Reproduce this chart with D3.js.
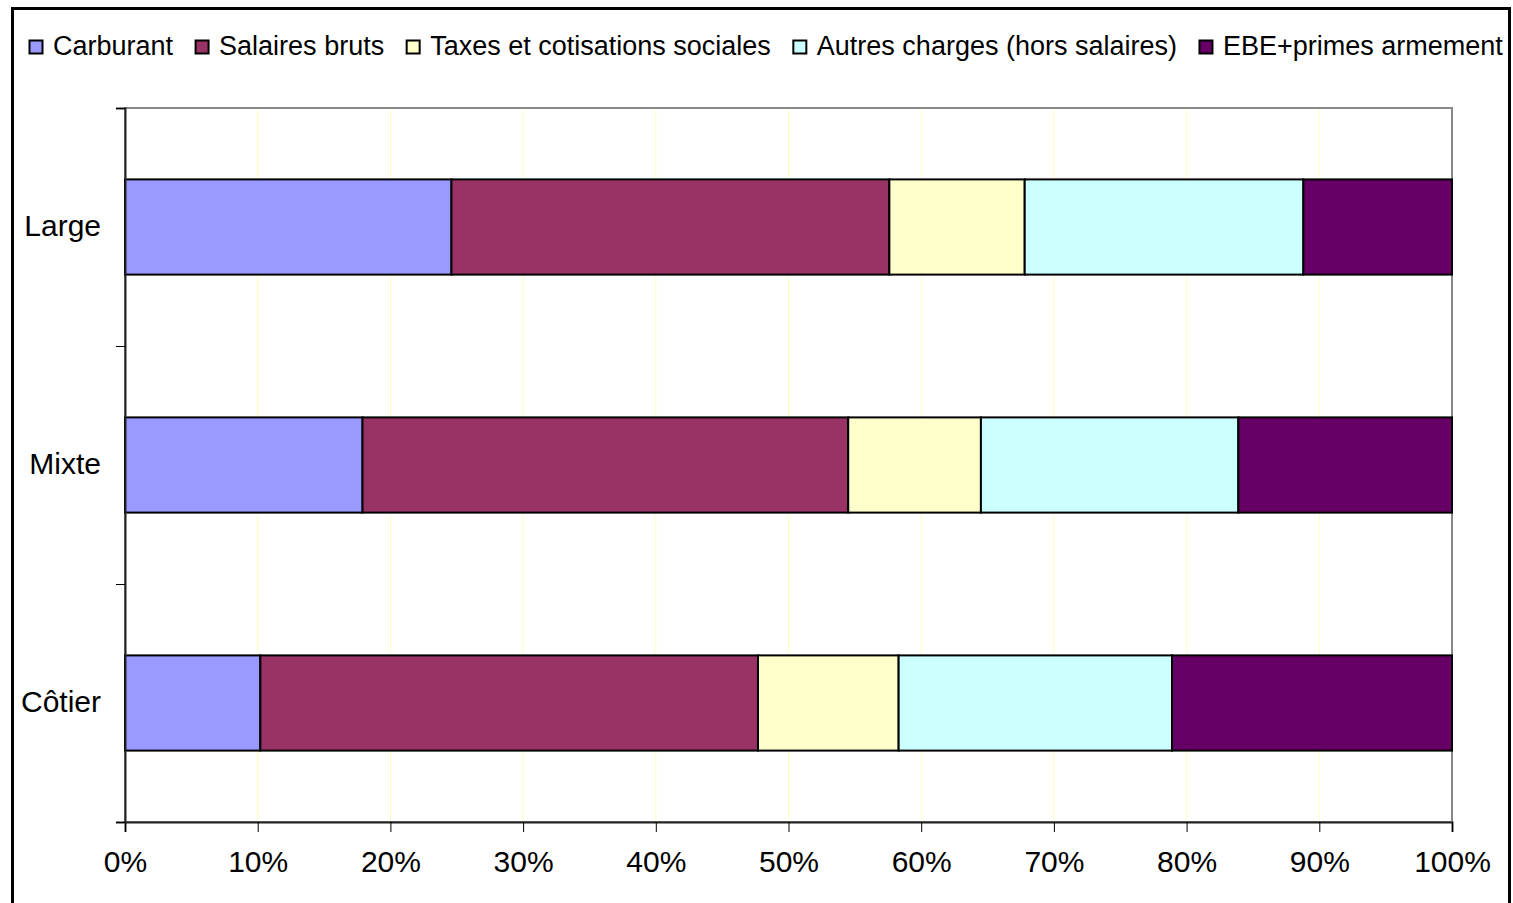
<!DOCTYPE html>
<html>
<head>
<meta charset="utf-8">
<script src="https://cdn.jsdelivr.net/npm/d3@7"></script>
<style>
  body { margin: 0; background: #fff; }
  text { font-family: "Liberation Sans", Arial, sans-serif; fill: #000; }
</style>
</head>
<body>
<svg id="chart" width="1513" height="903"></svg>
<script>
// data (shares in %)
var categories = ["Large", "Mixte", "Côtier"];
var seriesNames = ["Carburant", "Salaires bruts", "Taxes et cotisations sociales", "Autres charges (hors salaires)", "EBE+primes armement"];
var seriesColors = ["#9999ff", "#993366", "#ffffcc", "#ccffff", "#660066"];
var carburant = [24.6, 17.9, 10.2];
var salaires = [33.0, 36.6, 37.5];
var taxes = [10.2, 10.0, 10.6];
var autres = [21.0, 19.4, 20.6];
var ebe = [11.2, 16.1, 21.1];
var xTicks = [0, 10, 20, 30, 40, 50, 60, 70, 80, 90, 100];

var svg = d3.select("#chart"),
    margin = { top: 108, left: 125 },
    width = 1452 - 125,
    height = 822 - 108;

// outer frame
svg.append("rect")
    .attr("x", 12.5).attr("y", 8.5)
    .attr("width", 1497).attr("height", 1000)
    .attr("fill", "none").attr("stroke", "#000").attr("stroke-width", 3);

var x = d3.scaleLinear().domain([0, 100]).range([0, width]);
var y = d3.scaleBand().domain(categories).range([0, height])
    .paddingInner(0.6).paddingOuter(0.3);
var yTick = d3.scaleLinear().domain([0, categories.length]).range([0, height]);

var g = svg.append("g")
    .attr("transform", "translate(" + margin.left + "," + margin.top + ")");

// gridlines
g.selectAll(".grid")
    .data(xTicks.slice(1, -1))
    .enter().append("line")
    .attr("class", "grid")
    .attr("x1", function (d) { return x(d); })
    .attr("x2", function (d) { return x(d); })
    .attr("y1", 0).attr("y2", height)
    .attr("stroke", "#ffffc0").attr("stroke-width", 1);

// plot border (top / right)
g.append("rect")
    .attr("width", width).attr("height", height)
    .attr("fill", "none").attr("stroke", "#888").attr("stroke-width", 2);

// stacked rows
var table = categories.map(function (c, i) {
    return { cat: c, Carburant: carburant[i], "Salaires bruts": salaires[i],
        "Taxes et cotisations sociales": taxes[i], "Autres charges (hors salaires)": autres[i],
        "EBE+primes armement": ebe[i] };
});
var stack = d3.stack().keys(seriesNames).offset(d3.stackOffsetExpand)(table);

g.selectAll(".series")
    .data(stack)
    .enter().append("g")
    .attr("class", "series")
    .attr("fill", function (d, i) { return seriesColors[i]; })
    .selectAll("rect")
    .data(function (d) { return d; })
    .enter().append("rect")
    .attr("x", function (d) { return x(d[0] * 100); })
    .attr("width", function (d) { return x(d[1] * 100) - x(d[0] * 100); })
    .attr("y", function (d) { return y(d.data.cat); })
    .attr("height", y.bandwidth())
    .attr("stroke", "#000").attr("stroke-width", 2);

// x axis
var xAxis = g.append("g")
    .attr("transform", "translate(0," + height + ")")
    .call(d3.axisBottom(x).tickValues(xTicks).tickSize(10).tickPadding(19)
        .tickFormat(function (d) { return d + "%"; }));
xAxis.select(".domain").attr("stroke", "#222").attr("stroke-width", 2);
xAxis.selectAll(".tick line").attr("stroke", "#000");
xAxis.selectAll("text").style("font-size", "30px").attr("fill", "#000");

// y axis: ticks between categories, labels at band centres
var yAxis = g.append("g")
    .call(d3.axisLeft(yTick).tickValues([0, 1, 2, 3]).tickSize(9).tickFormat(""));
yAxis.select(".domain").attr("stroke", "#222").attr("stroke-width", 2);
yAxis.selectAll(".tick line").attr("stroke", "#000");

g.selectAll(".cat")
    .data(categories)
    .enter().append("text")
    .attr("class", "cat")
    .attr("x", -24)
    .attr("y", function (d) { return y(d) + y.bandwidth() / 2 - 2; })
    .attr("dy", "0.35em")
    .attr("text-anchor", "end")
    .style("font-size", "30px")
    .text(function (d) { return d; });

// legend
var legend = svg.append("g").attr("transform", "translate(29,0)");
var lx = 0;
seriesNames.forEach(function (name, i) {
    var item = legend.append("g").attr("transform", "translate(" + lx + ",0)");
    item.append("rect")
        .attr("x", 0.5).attr("y", 40.5).attr("width", 13).attr("height", 13)
        .attr("fill", seriesColors[i]).attr("stroke", "#000").attr("stroke-width", 2);
    var t = item.append("text")
        .attr("x", 24).attr("y", 55)
        .style("font-size", "27px")
        .text(name);
    lx += 24 + t.node().getComputedTextLength() + 22;
});
</script>
</body>
</html>
